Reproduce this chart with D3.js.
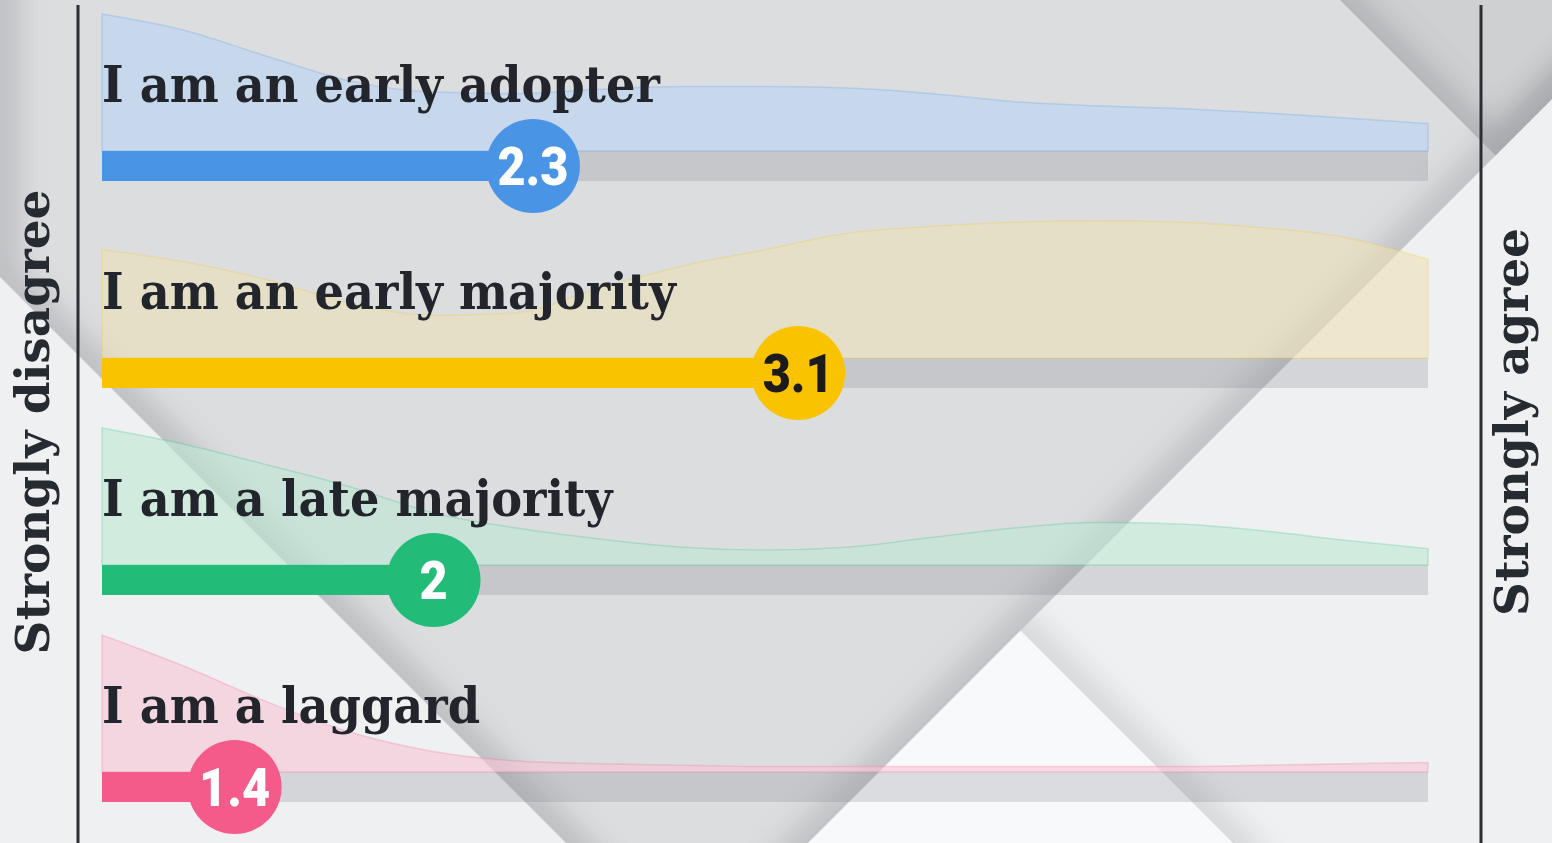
<!DOCTYPE html>
<html>
<head>
<meta charset="utf-8">
<script src="https://cdn.jsdelivr.net/npm/d3@7"></script>
<style>
  html, body { margin: 0; padding: 0; background: #eff0f1; overflow: hidden; }
  svg { display: block; }
</style>
</head>
<body>
<div id="chart"></div>
<script>
// Self-placement on the adoption curve, 1 = strongly disagree .. 5 = strongly agree
const statements = ["I am an early adopter", "I am an early majority", "I am a late majority", "I am a laggard"];
const means = [2.3, 3.1, 2, 1.4];
const scaleEnds = ["Strongly disagree", "Strongly agree"];

// answer grid the density curves are sampled on
const grid = [1, 1.25, 1.5, 1.75, 2, 2.25, 2.5, 2.75, 3, 3.25, 3.5, 3.75, 4, 4.25, 4.5, 4.75, 5];

// relative density of the answers (peak of the chart = 1)
const densityAdopter  = [1, .88, .69, .51, .43, .42, .45, .47, .47, .46, .42, .36, .33, .31, .28, .24, .20];
const densityEarlyMaj = [.79, .70, .57, .40, .31, .33, .51, .67, .79, .91, .96, .99, 1, .99, .95, .88, .72];
const densityLateMaj  = [1, .88, .73, .57, .38, .27, .19, .13, .11, .13, .20, .27, .31, .30, .25, .18, .12];
const densityLaggard  = [1, .77, .51, .29, .15, .08, .06, .05, .04, .04, .04, .04, .04, .04, .05, .06, .07];
const densities = [densityAdopter, densityEarlyMaj, densityLateMaj, densityLaggard];

const palette  = ["#4a94e6", "#f9c300", "#22bb77", "#f45b8a"];
const paleFill = ["#b9d3f5", "#ede1b7", "#bce8d4", "#f6c5d5"];
const valueInk = ["#ffffff", "#1b1b1b", "#ffffff", "#ffffff"];

function drawChart(containerId) {
    const W = 1552, H = 843;
    const container = d3.select(containerId);
    container.html('');

    const svg = container.append("svg")
        .attr("width", W)
        .attr("height", H);
    const defs = svg.append("defs");

    // 1. Scales
    const x = d3.scaleLinear().domain([1, 5]).range([102, 1428]);
    const row = d3.scalePoint().domain(statements).range([151, 772]); // top of each bar
    const dens = d3.scaleLinear().domain([0, 1]).range([0, 137]);
    const color = d3.scaleOrdinal().domain(statements).range(palette);
    const pale = d3.scaleOrdinal().domain(statements).range(paleFill);
    const ink = d3.scaleOrdinal().domain(statements).range(valueInk);
    const barH = 30, radius = 47;

    // 2. Folded paper background
    const vShape    = [[0, 0], [W, 0], [W, 99], [808, 843], [566, 843], [0, 277]];
    const topRight  = [[1340, 0], [W, 0], [W, 99], [1495.5, 155.5]];
    const whiteTri  = [[1020.5, 630.5], [1233, 843], [808, 843]];
    const lightSide = [[W, 99], [W, H], [1233, 843], [1020.5, 630.5]];
    const poly = d3.line();

    defs.append("filter")
        .attr("id", "soft")
        .attr("filterUnits", "userSpaceOnUse")
        .attr("x", -200).attr("y", -200).attr("width", W + 400).attr("height", H + 400)
        .append("feGaussianBlur").attr("stdDeviation", 14);

    [["clipV", vShape], ["clipTR", topRight], ["clipLight", lightSide]].forEach(([id, pts]) => {
        defs.append("clipPath").attr("id", id).append("path").attr("d", poly(pts) + "Z");
    });

    const bg = svg.append("g").attr("class", "paper");
    bg.append("rect").attr("width", W).attr("height", H).attr("fill", "#eff0f1");
    bg.append("path").attr("d", poly(vShape) + "Z").attr("fill", "#dcdddf");
    bg.append("path").attr("d", poly(topRight) + "Z").attr("fill", "#cfd0d2");
    bg.append("path").attr("d", poly(whiteTri) + "Z").attr("fill", "#f8f9fa");

    // soft shadows along the folds
    const shade = (clip, pts, width, opacity) => {
        bg.append("g").attr("clip-path", `url(#${clip})`)
            .append("path")
            .attr("d", poly(pts))
            .attr("fill", "none")
            .attr("stroke", "#8f9296")
            .attr("stroke-width", width)
            .attr("opacity", opacity)
            .attr("filter", "url(#soft)");
    };
    shade("clipV", [[0, -40], [0, 277], [600, 877]], 36, 0.42);
    shade("clipV", [[780, 871], [1600, 51]], 36, 0.38);
    shade("clipTR", [[1300, -40], [1495.5, 155.5], [1600, 51]], 36, 0.45);
    shade("clipLight", [[1000, 610], [1260, 870]], 32, 0.28);

    // 3. Side scale lines and end labels
    svg.append("line").attr("x1", 78).attr("x2", 78).attr("y1", 5).attr("y2", H)
        .attr("stroke", "#2a2e35").attr("stroke-width", 3);
    svg.append("line").attr("x1", 1481).attr("x2", 1481).attr("y1", 5).attr("y2", H)
        .attr("stroke", "#2a2e35").attr("stroke-width", 3);

    const ends = svg.selectAll(".scale-end")
        .data(scaleEnds)
        .enter()
        .append("text")
        .attr("class", "scale-end")
        .attr("text-anchor", "middle")
        .attr("font-family", "'DejaVu Serif Condensed', 'DejaVu Serif', serif")
        .attr("font-weight", "bold")
        .attr("font-size", 47)
        .attr("fill", "#262a31")
        .text(d => d);

    // 4. Rows
    const rows = svg.selectAll(".row")
        .data(statements.map((s, i) => ({ label: s, mean: means[i], density: densities[i] })))
        .enter()
        .append("g")
        .attr("class", "row");

    const area = d3.area()
        .x((d, i) => x(grid[i]))
        .y0(0)
        .y1(d => -dens(d))
        .curve(d3.curveMonotoneX);

    rows.append("path")
        .attr("transform", d => `translate(0,${row(d.label)})`)
        .attr("d", d => area(d.density))
        .attr("fill", d => pale(d.label))
        .attr("fill-opacity", 0.6)
        .attr("stroke", d => color(d.label))
        .attr("stroke-opacity", 0.22)
        .attr("stroke-width", 1.5);

    // track
    rows.append("rect")
        .attr("x", x(1))
        .attr("y", d => row(d.label))
        .attr("width", x(5) - x(1))
        .attr("height", barH)
        .attr("fill", "rgb(120,126,136)")
        .attr("fill-opacity", 0.23);

    // mean bar
    rows.append("rect")
        .attr("x", x(1))
        .attr("y", d => row(d.label))
        .attr("width", d => x(d.mean) - x(1))
        .attr("height", barH)
        .attr("fill", d => color(d.label));

    const labels = rows.append("text")
        .attr("class", "statement")
        .attr("x", 0)
        .attr("y", 0)
        .attr("font-family", "'DejaVu Serif Condensed', 'DejaVu Serif', serif")
        .attr("font-weight", "bold")
        .attr("font-size", 51)
        .attr("fill", "#22252c")
        .text(d => d.label);

    // squeeze the slab serif to the width of the original lettering
    const w0 = labels.node().getComputedTextLength();
    const sx = 558 / w0;
    labels.attr("transform", d => `translate(${x(1)},${row(d.label) - 49}) scale(${sx},1)`);

    const endW = ends.node().getComputedTextLength();
    ends.attr("transform", (d, i) =>
        `translate(${i ? 1528 : 49},422) rotate(-90) scale(${465 / endW},1)`);

    rows.append("circle")
        .attr("cx", d => x(d.mean))
        .attr("cy", d => row(d.label) + barH / 2)
        .attr("r", radius)
        .attr("fill", d => color(d.label));

    rows.append("text")
        .attr("transform", d => `translate(${x(d.mean)},${row(d.label) + barH / 2}) scale(0.9,1)`)
        .attr("dy", "0.36em")
        .attr("text-anchor", "middle")
        .attr("font-family", "Roboto, 'Open Sans', sans-serif")
        .attr("font-weight", 900)
        .attr("font-size", 54)
        .attr("fill", d => ink(d.label))
        .text(d => d.mean);
}

window.addEventListener('load', () => {
    drawChart('#chart');
});
</script>
</body>
</html>
